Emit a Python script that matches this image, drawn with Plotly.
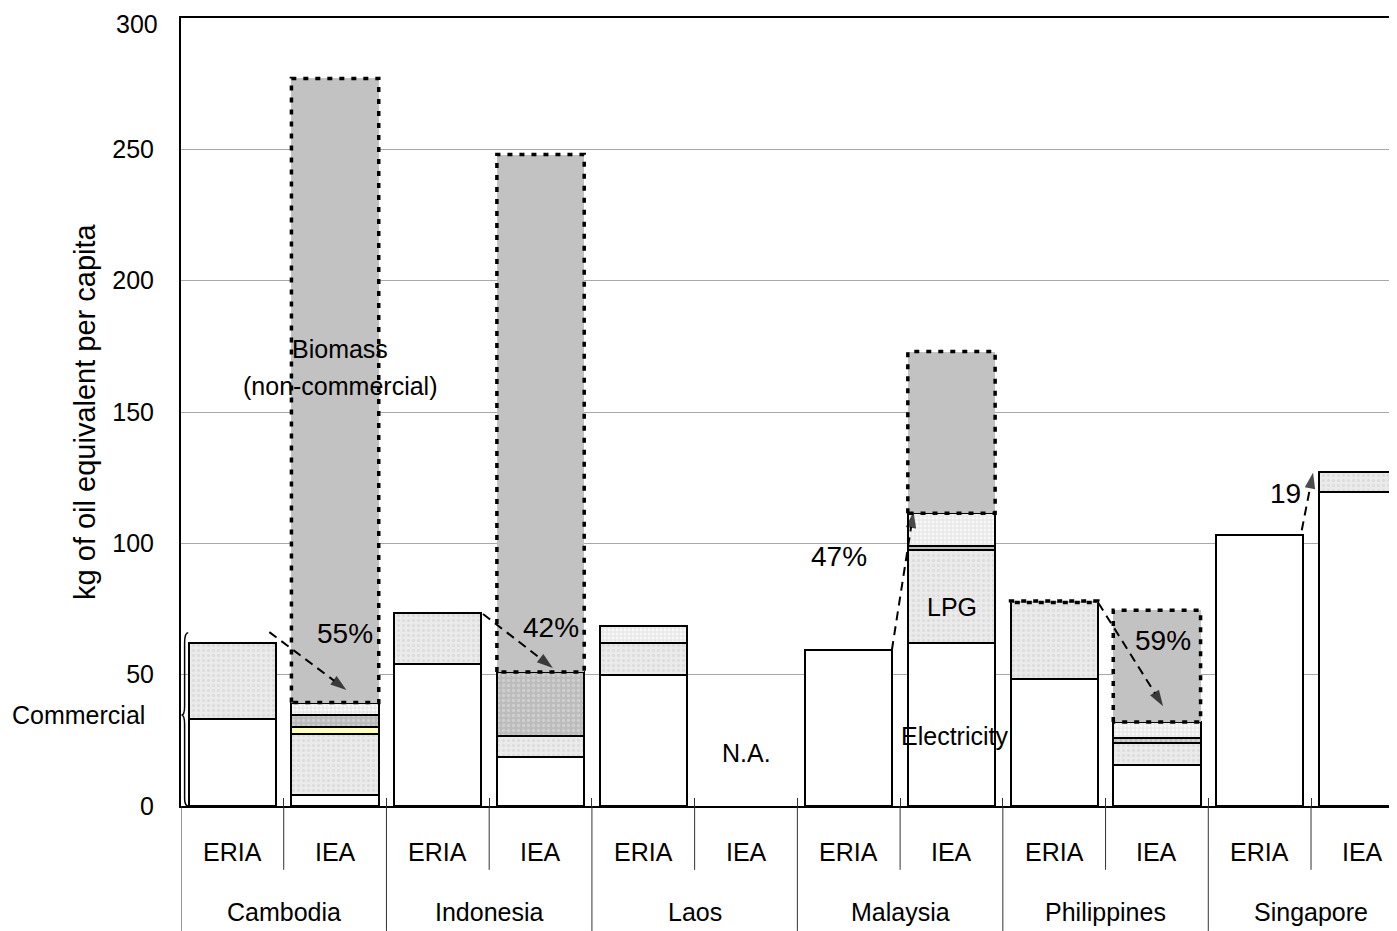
import plotly.graph_objects as go

# ---------------- data ----------------
countries = ["Cambodia", "Indonesia", "Laos", "Malaysia", "Philippines", "Singapore"]
sources = ["ERIA", "IEA"]
# slot order: Cam-ERIA, Cam-IEA, Ind-ERIA, Ind-IEA, Lao-ERIA, Lao-IEA, Mal-ERIA, Mal-IEA, Phi-ERIA, Phi-IEA, Sin-ERIA, Sin-IEA
electricity = [33, 4, 54, 18.5, 50, 0, 59.5, 62, 48.5, 15.5, 103, 119.5]
lpg = [29, 23.4, 19.5, 8, 12, 0, 0, 35.5, 29, 8.5, 0, 7.5]
kerosene = [0, 2.8, 0, 0, 0, 0, 0, 0, 0, 0, 0, 0]
gas = [0, 4.6, 0, 24.5, 0, 0, 0, 1.5, 0, 1.7, 0, 0]
others = [0, 4.6, 0, 0, 6.5, 0, 0, 12.5, 0, 6.3, 0, 0]
biomass = [0, 237.6, 0, 197, 0, 0, 0, 61.5, 0.5, 42.5, 0, 0]
y_ticks = [0, 50, 100, 150, 200, 250, 300]
shares = ["55%", "42%", "47%", "59%", "19"]

FONT = "Liberation Sans, Arial"
W = 0.85
xs = list(range(len(electricity)))

def nz(v):
    return [None if a == 0 else a for a in v]

fig = go.Figure()
edge = dict(color="black", width=2)
fig.add_trace(go.Bar(x=xs, y=nz(electricity), width=W, marker=dict(color="white", line=edge), name="Electricity"))
fig.add_trace(go.Bar(x=xs, y=nz(lpg), width=W, name="LPG",
                     marker=dict(color="#ececec", line=edge,
                                 pattern=dict(shape=".", bgcolor="#ebebeb", fgcolor="#cfcfcf", size=5, solidity=0.35))))
fig.add_trace(go.Bar(x=xs, y=nz(kerosene), width=W, name="Kerosene", marker=dict(color="#ffffc0", line=edge)))
fig.add_trace(go.Bar(x=xs, y=nz(gas), width=W, name="Gas",
                     marker=dict(color="#c4c4c4", line=edge,
                                 pattern=dict(shape=".", bgcolor="#bcbcbc", fgcolor="#e2e2e2", size=5, solidity=0.35))))
fig.add_trace(go.Bar(x=xs, y=nz(others), width=W, name="Others",
                     marker=dict(color="white", line=edge,
                                 pattern=dict(shape="+", bgcolor="#f8f8f8", fgcolor="#bdbdbd", size=4, solidity=0.3))))
fig.add_trace(go.Bar(x=xs, y=nz(biomass), width=W, name="Biomass",
                     marker=dict(color="#c2c2c2", line=dict(width=0))))

# dotted outline around biomass boxes
ox, oy = [], []
for i, b in enumerate(biomass):
    if b > 0:
        base = electricity[i] + lpg[i] + kerosene[i] + gas[i] + others[i]
        top = base + b
        l, r = i - W / 2, i + W / 2
        ox += [l, l, r, r, l, None]
        oy += [base, top, top, base, base, None]
fig.add_trace(go.Scatter(x=ox, y=oy, mode="lines", line=dict(color="black", width=3.5, dash="5px,7px"),
                         hoverinfo="skip", showlegend=False))

# dashed arrows (ERIA commercial -> IEA commercial)
arrows = [((0.36, 66.2), (1.11, 44.2)),
          ((2.44, 73.1), (3.12, 52.5)),
          ((6.42, 59.4), (6.63, 112)),
          ((8.43, 77.3), (9.06, 38)),
          ((10.41, 105), (10.52, 127))]
for (x0, y0), (x1, y1) in arrows:
    fig.add_trace(go.Scatter(x=[x0, x1], y=[y0, y1], mode="lines+markers",
                             line=dict(color="black", width=2, dash="9px,6px"),
                             marker=dict(symbol=["circle", "arrow"], size=[0, 17], color="black",
                                         angleref="previous", line=dict(width=0)),
                             hoverinfo="skip", showlegend=False))

# page body has an 8px margin; compensate so the plot area lands at the reference position
fig.update_layout(
    width=1389, height=923,
    margin=dict(l=173, r=0, t=10, b=125),
    barmode="stack", bargap=0.15,
    plot_bgcolor="white", paper_bgcolor="white",
    showlegend=False,
    font=dict(family=FONT, size=25, color="black"),
)
fig.update_xaxes(range=[-0.5, 11.337], showgrid=False, zeroline=False,
                 showline=True, linecolor="black", linewidth=2, mirror=True,
                 tickvals=[i + 0.5 for i in range(-1, 11)], ticks="inside", ticklen=8,
                 tickcolor="#333", showticklabels=False)
fig.update_yaxes(range=[0, 300], tickvals=y_ticks[:-1], showgrid=True, gridcolor="#a8a8a8", gridwidth=1,
                 zeroline=False, showline=True, linecolor="black", linewidth=2,
                 ticks="", ticklabelstandoff=20, tickfont=dict(family=FONT, size=25))

ann = []
# top tick label (drawn as annotation so it is not dropped at the figure edge)
ann.append(dict(x=-0.017, y=y_ticks[-1], xref="paper", yref="y", text=str(y_ticks[-1]), showarrow=False,
                xanchor="right", yanchor="middle", yshift=-6, font=dict(size=25)))
for i in xs:
    ann.append(dict(x=i, y=-0.0584, xref="x", yref="paper", text=sources[i % 2], showarrow=False,
                    font=dict(size=25), xanchor="center", yanchor="middle"))
for k, c in enumerate(countries):
    ann.append(dict(x=2 * k + 0.5, y=-0.1345, xref="x", yref="paper", text=c, showarrow=False,
                    font=dict(size=25), xanchor="center", yanchor="middle"))
ann.append(dict(x=-0.079, y=0.5, xref="paper", yref="paper", text="kg of oil equivalent per capita",
                textangle=-90, showarrow=False, xanchor="center", yanchor="middle", font=dict(size=29)))
ann += [
    dict(x=1.05, y=174, text="Biomass", showarrow=False, font=dict(size=25)),
    dict(x=1.05, y=160, text="(non-commercial)", showarrow=False, font=dict(size=25)),
    dict(x=1.1, y=65.5, text=shares[0], showarrow=False, font=dict(size=28)),
    dict(x=3.1, y=68, text=shares[1], showarrow=False, font=dict(size=28)),
    dict(x=5.91, y=94.8, text=shares[2], showarrow=False, font=dict(size=28)),
    dict(x=9.06, y=63, text=shares[3], showarrow=False, font=dict(size=28)),
    dict(x=10.42, y=119, text=shares[4], showarrow=False, xanchor="right", font=dict(size=28)),
    dict(x=7.01, y=75.8, text="LPG", showarrow=False, font=dict(size=25)),
    dict(x=7.03, y=26.6, text="Electricity", showarrow=False, font=dict(size=25)),
    dict(x=5.0, y=20, text="N.A.", showarrow=False, font=dict(size=25)),
    dict(x=-0.028, y=34.6, xref="paper", text="Commercial", xanchor="right", showarrow=False, font=dict(size=25)),
]
fig.update_layout(annotations=ann)

shapes = []
for i in range(0, 12, 2):
    shapes.append(dict(type="line", xref="x", yref="paper", x0=i + 0.5, x1=i + 0.5, y0=0, y1=-0.081,
                       line=dict(color="#333", width=1)))
    shapes.append(dict(type="line", xref="x", yref="paper", x0=i - 0.5, x1=i - 0.5, y0=0, y1=-0.1586,
                       line=dict(color="#333", width=1)))
# brace next to "Commercial"
shapes.append(dict(type="path", xref="x", yref="y",
                   path="M -0.43,66 Q -0.465,66 -0.465,62 L -0.465,38 Q -0.465,34.6 -0.495,34.6 "
                        "Q -0.465,34.6 -0.465,31 L -0.465,3 Q -0.465,0 -0.43,0",
                   line=dict(color="black", width=1.5)))
fig.update_layout(shapes=shapes)

fig.write_html("out.html")
